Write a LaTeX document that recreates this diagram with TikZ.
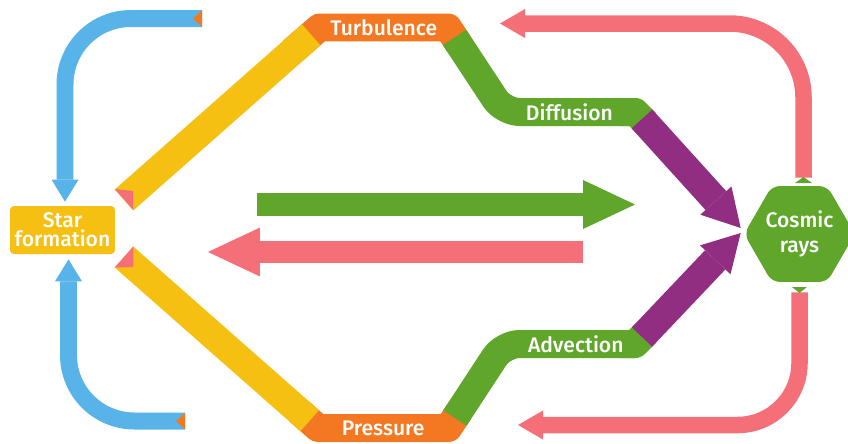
\documentclass[tikz,border=0pt]{standalone}
\usepackage{fontspec}
\setmainfont{Fira Sans}[UprightFont={* Medium}]
\usetikzlibrary{arrows.meta,shapes.geometric}
\definecolor{Yellow}{HTML}{F5C011}
\definecolor{Orange}{HTML}{F47721}
\definecolor{Green}{HTML}{5FA62B}
\definecolor{Purple}{HTML}{922E81}
\definecolor{Pink}{HTML}{F56F79}
\definecolor{Blue}{HTML}{57B3E8}
\tikzset{
  ribbon/.style={draw=#1, line width=0.56cm, line join=round},
  lbl/.style={text=white, font=\fontsize{12}{13}\selectfont, inner sep=0pt},
  starbox/.style={fill=Yellow, rounded corners=0.08cm, minimum width=2.1cm, minimum height=0.96cm, inner sep=2pt, align=center, text=white, font=\fontsize{12}{11}\selectfont},
  hexbox/.style={regular polygon, regular polygon sides=6, minimum size=1.98cm, fill=Green, rounded corners=0.16cm, inner sep=0pt, align=center, text=white, font=\fontsize{12}{14}\selectfont},
  bluearrow/.style={draw=Blue, line width=0.34cm, rounded corners=1.32cm, -{Triangle[length=0.44cm, width=0.54cm, line width=0pt]}},
  pinkarrow/.style={draw=Pink, line width=0.33cm, rounded corners=#1, -{Triangle[length=0.5cm, width=0.58cm, line width=0pt]}},
  purplearrow/.style={draw=Purple, line width=0.56cm, -{Triangle[length=0.74cm, width=0.84cm, line width=0pt]}},
  bigarrow/.style={draw=#1, line width=0.45cm, -{Triangle[length=1.04cm, width=0.98cm, line width=0pt]}}
}
\begin{document}
\begin{tikzpicture}[x=0.02cm, y=-0.02cm]
  \useasboundingbox (0,0) rectangle (848,443);
  \node[starbox] (sf) at (62.5,230) {Star\\formation};
  \node[hexbox] (cr) at (799.5,234) {Cosmic\\rays};

  % ribbon corners
  \coordinate (ys1) at (124,200);   \coordinate (ye1) at (311.2,34.8);
  \coordinate (ya1) at (292,51.5);  \coordinate (t1) at (319.5,27.5);
  \coordinate (t2) at (448,27.5);   \coordinate (gs1) at (454.6,37.5);
  \coordinate (ga1) at (459,44.2);  \coordinate (c2) at (503.6,112);
  \coordinate (c3) at (635.2,112);  \coordinate (ge1) at (646,123);
  \coordinate (ps1) at (642,119);
  \coordinate (ys2) at (124,257);   \coordinate (ye2) at (309.7,420.7);
  \coordinate (ya2) at (298.6,410.9); \coordinate (p1) at (318,428);
  \coordinate (p2) at (448.3,428);  \coordinate (gs2) at (454.9,418);
  \coordinate (ga2) at (459.3,411.3); \coordinate (c5) at (503.4,344);
  \coordinate (c6) at (635,344);    \coordinate (ge2) at (646,333);
  \coordinate (ps2) at (642,337);

  % loops back to star formation and out of cosmic rays
  \coordinate (bt) at (202,18.5);
  \coordinate (bb) at (185,421);
  \coordinate (pt) at (500,23.5);
  \coordinate (pb) at (518,425);
  \draw[bluearrow] (bt) -| ([xshift=0.05cm, yshift=0.08cm]sf.north);
  \draw[bluearrow] (bb) -| ([xshift=0.12cm, yshift=-0.1cm]sf.south);
  \draw[pinkarrow=1.48cm] ([xshift=0.08cm, yshift=0.16cm]cr.north) |- (pt);
  \draw[pinkarrow=1.24cm] ([yshift=-0.2cm]cr.south) |- (pb);

  \coordinate (gl) at (257,204.5); \coordinate (gr) at (635,204.5);
  \coordinate (pr) at (583,252);   \coordinate (pl) at (208,252);
  \draw[bigarrow=Green] (gl) -- (gr);
  \draw[bigarrow=Pink, line width=0.44cm] (pr) -- (pl);

  \draw[ribbon=Orange] (ya1) -- (t1) -- node[lbl] (turb) {Turbulence} (t2) -- (ga1);
  \draw[ribbon=Orange] (ya2) -- (p1) -- node[lbl] (pres) {Pressure} (p2) -- (ga2);
  \draw[ribbon=Yellow] (ys1) -- (ye1);
  \draw[ribbon=Yellow] (ys2) -- (ye2);

  \draw[ribbon=Green] (620,112) -- (c3) -- (ge1);
  \draw[ribbon=Green, rounded corners=0.32cm] (gs1) -- (c2) -- node[lbl] (diff) {Diffusion} (c3);
  \draw[ribbon=Green] (620,344) -- (c6) -- (ge2);
  \draw[ribbon=Green, rounded corners=0.32cm] (gs2) -- (c5) -- node[lbl, pos=0.55] (adv) {Advection} (c6);

  \draw[purplearrow] (ps1) -- ([xshift=-0.06cm, yshift=0.12cm]cr.west);
  \draw[purplearrow] (ps2) -- ([xshift=-0.06cm, yshift=0.02cm]cr.west);

  % folded ends
  \fill[Pink] (114.8,189) -- (133.2,210) -- (133.2,191) -- cycle;
  \fill[Pink] (114.7,267.5) -- (133.3,246.5) -- (133.3,267) -- cycle;
  \fill[Orange] (202,10) -- (202,27) -- (193,18.5) -- cycle;
  \fill[Orange] (185,413) -- (185,429) -- (176,421) -- cycle;
  \fill[Green] (795,183) -- (812,183) -- (803.5,177) -- cycle;
  \fill[Green] (792,287) -- (807,287) -- (799.5,293) -- cycle;
\end{tikzpicture}
\end{document}
